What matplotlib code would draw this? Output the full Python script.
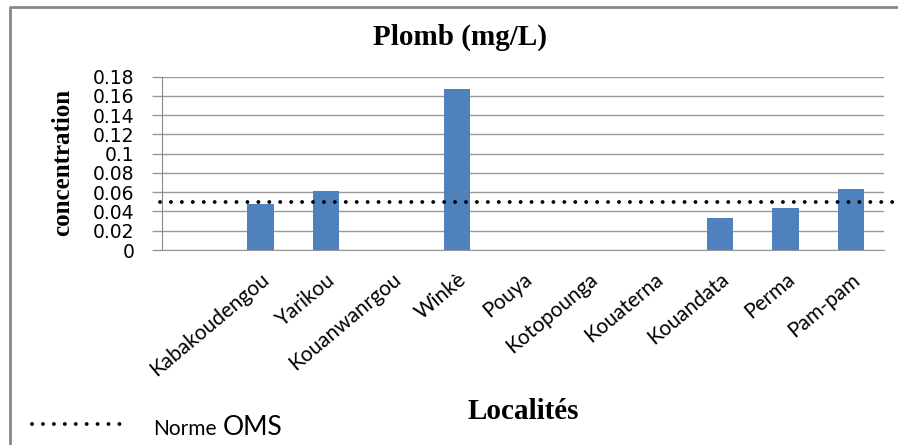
import matplotlib
matplotlib.use("Agg")
import matplotlib.pyplot as plt
from matplotlib.lines import Line2D
import matplotlib.transforms as mtransforms
import numpy as np

# data
localites = ["Kabakoudengou", "Yarikou", "Kouanwanrgou", "Winkè", "Pouya",
             "Kotopounga", "Kouaterna", "Kouandata", "Perma", "Pam-pam"]
plomb = [0.048, 0.061, 0, 0.167, 0, 0, 0, 0.033, 0.044, 0.063]
norme_oms = 0.05
yticks = [0, 0.02, 0.04, 0.06, 0.08, 0.1, 0.12, 0.14, 0.16, 0.18]

W, H = 898, 445
fig = plt.figure(figsize=(W / 100, H / 100), dpi=100)
ax = fig.add_axes([162 / W, 1 - 250 / H, (884 - 162) / W, (250 - 76.7) / H])

x = np.arange(len(localites))
ax.bar(x, plomb, width=0.4, color="#4F81BD", zorder=3)

ax.set_xlim(-1.5, len(localites) - 0.5)
ax.set_ylim(0, 0.18)
ax.set_yticks(yticks)
ax.set_yticklabels([f"{v:g}" for v in yticks], fontsize=13.5, family="DejaVu Sans")
ax.tick_params(axis="y", length=7, width=1, color="#999999", pad=13)
ax.grid(axis="y", color="#999999", linewidth=1, zorder=0)
ax.set_xticks(x)
ax.set_xticklabels(localites, rotation=40, ha="right", rotation_mode="anchor",
                   fontsize=15, family="Lato")
ax.tick_params(axis="x", length=0, pad=14)
for s in ["top", "right"]:
    ax.spines[s].set_visible(False)
ax.spines["left"].set_color("#888888")
ax.spines["bottom"].set_color("#999999")

# WHO norm line runs across the chart area to the right edge
trans = mtransforms.blended_transform_factory(fig.transFigure, ax.transData)
ax.plot([160 / W, 1.0], [norme_oms, norme_oms], transform=trans, clip_on=False,
        color="black", lw=2.8, linestyle=(0, (0.01, 2.8)),
        dash_capstyle="round", zorder=4)

serif = "Liberation Serif"
fig.text(460 / W, 1 - 45 / H, "Plomb (mg/L)", ha="center", va="baseline",
         fontsize=21, fontweight="bold", family=serif)
fig.text(63 / W, 1 - 162 / H, "concentration", ha="center", va="center",
         rotation=90, fontsize=18, fontweight="bold", family=serif)
fig.text(523 / W, 1 - 419 / H, "Localités", ha="center", va="baseline",
         fontsize=21, fontweight="bold", family=serif)

# legend
fig.add_artist(Line2D([32 / W, 121 / W], [1 - 424 / H, 1 - 424 / H],
                      transform=fig.transFigure, color="black", lw=2.8,
                      linestyle=(0, (0.01, 2.8)), dash_capstyle="round"))
fig.text(153 / W, 1 - 435 / H, "Norme", ha="left", va="baseline",
         fontsize=15, family="Lato")
fig.text(223 / W, 1 - 435 / H, "OMS", ha="left", va="baseline",
         fontsize=19, family="Lato")

# chart frame (left and top edges)
fig.add_artist(Line2D([10 / W, 10 / W, 1.0], [0, 1 - 7 / H, 1 - 7 / H],
                      transform=fig.transFigure, color="#888888", lw=2))

fig.savefig("out.png", dpi=100)
